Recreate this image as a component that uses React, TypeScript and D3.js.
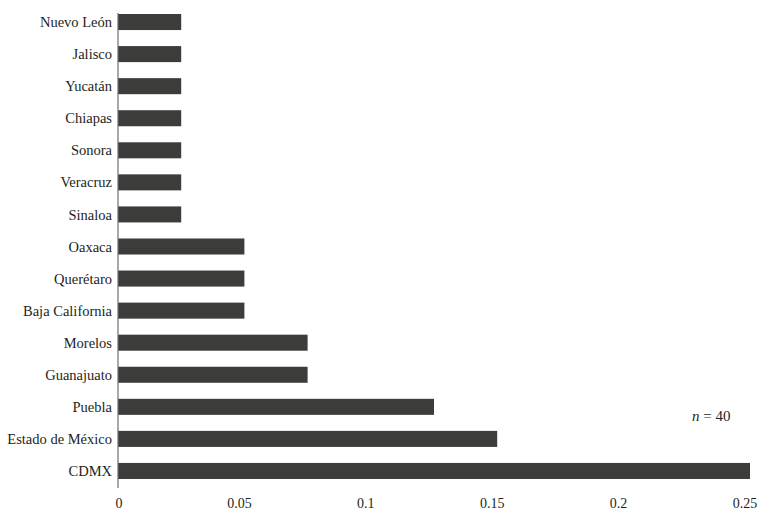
import React from "react";
import * as d3 from "d3";

// share of respondents by state, n = 40
const states = [
  "Nuevo León",
  "Jalisco",
  "Yucatán",
  "Chiapas",
  "Sonora",
  "Veracruz",
  "Sinaloa",
  "Oaxaca",
  "Querétaro",
  "Baja California",
  "Morelos",
  "Guanajuato",
  "Puebla",
  "Estado de México",
  "CDMX",
];
const shares = [
  0.025, 0.025, 0.025, 0.025, 0.025, 0.025, 0.025, 0.05, 0.05, 0.05, 0.075,
  0.075, 0.125, 0.15, 0.25,
];
const tickValues = [0, 0.05, 0.1, 0.15, 0.2, 0.25];
const tickLabels = ["0", "0.05", "0.1", "0.15", "0.2", "0.25"];

const width = 763;
const height = 518;
const font = "'Liberation Serif', 'Times New Roman', serif";

export default function App() {
  const rows = states.map((state, i) => ({ state, value: shares[i] }));

  const x = d3.scaleLinear().domain([0, 0.25]).range([118, 750]);
  const y = d3
    .scaleBand()
    .domain(states)
    .range([6, 487])
    .paddingInner(0.5)
    .paddingOuter(0.25);

  return (
    <svg
      width={width}
      height={height}
      style={{ position: "absolute", left: 0, top: 0, background: "#fff" }}
    >
      {rows.map((d) => (
        <rect
          key={d.state}
          x={x(0)}
          y={y(d.state)}
          width={x(d.value) - x(0)}
          height={y.bandwidth()}
          fill="#3c3c3a"
        />
      ))}

      <line x1={118} x2={118} y1={13} y2={488} stroke="#6e6e6e" strokeWidth={1.2} />

      {rows.map((d) => (
        <text
          key={"l" + d.state}
          x={112}
          y={(y(d.state) ?? 0) + y.bandwidth() / 2}
          dy="0.35em"
          textAnchor="end"
          fontFamily={font}
          fontSize={14.5}
          fill="#231f20"
        >
          {d.state}
        </text>
      ))}

      {tickValues.map((v, i) => (
        <text
          key={"t" + v}
          x={x(v) + (v === 0 ? 1 : -5)}
          y={508}
          textAnchor="middle"
          fontFamily={font}
          fontSize={14}
          fill="#231f20"
        >
          {tickLabels[i]}
        </text>
      ))}

      <text x={692} y={421} fontFamily={font} fontSize={15} fill="#231f20">
        <tspan fontStyle="italic">n</tspan> = 40
      </text>
    </svg>
  );
}
